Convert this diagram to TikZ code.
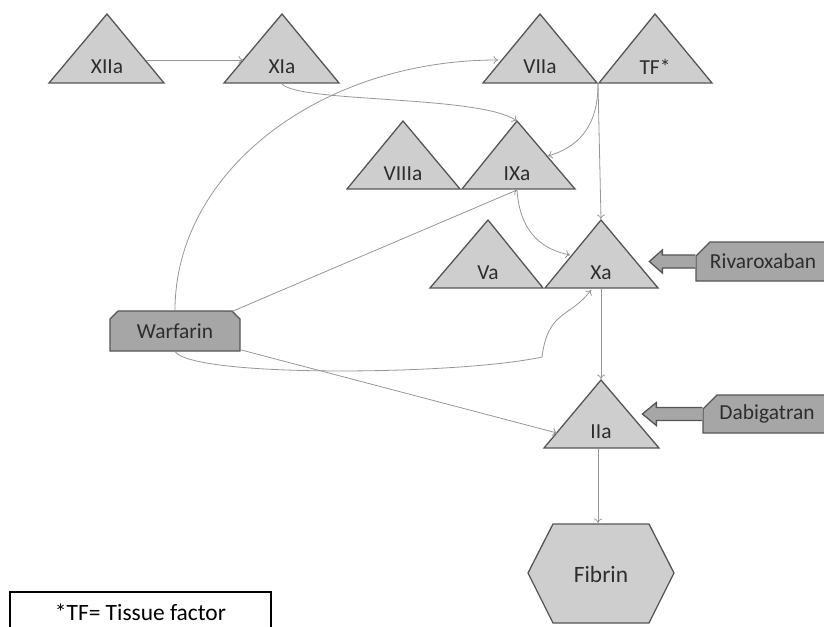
\documentclass[tikz,border=0pt]{standalone}
\usepackage{fontspec}
\setmainfont{Carlito}
\usetikzlibrary{shapes.misc,arrows.meta}
\definecolor{trifill}{RGB}{206,206,206}
\definecolor{drugfill}{RGB}{166,166,166}
\definecolor{edgegray}{RGB}{85,85,85}
\definecolor{linkgray}{RGB}{150,150,150}
\definecolor{textgray}{RGB}{45,45,45}

\begin{document}
\begin{tikzpicture}[x=1bp,y=-1bp,>={To[length=4.5bp,width=8bp]},
  tri/.style={fill=trifill,draw=edgegray,line width=1.3bp},
  lbl/.style={text=textgray,font=\fontsize{21.5}{25}\selectfont,inner sep=0pt},
  link/.style={draw=linkgray,line width=0.8bp,->},
  drug/.style={chamfered rectangle,fill=drugfill,draw=edgegray,line width=1.3bp,
    text=textgray,font=\fontsize{21.5}{25}\selectfont,inner sep=0pt,chamfered rectangle sep=4bp},
  blockarrow/.style={fill=drugfill,draw=edgegray,line width=1.3bp}]
\useasboundingbox (0,0) rectangle (824,627);
\clip (0,0) rectangle (824,627);

% factors
\filldraw[tri] (49,83) -- (107,14) -- (164,83) -- cycle;
\node[lbl] (xiia) at (107,67) {XIIa};
\filldraw[tri] (224,83) -- (282,14) -- (339,83) -- cycle;
\node[lbl] (xia) at (282,67) {XIa};
\filldraw[tri] (483,83) -- (540,14) -- (597,83) -- cycle;
\node[lbl] (viia) at (540,67) {VIIa};
\filldraw[tri] (599,83) -- (655,14) -- (712,83) -- cycle;
\node[lbl] (tf) at (655,67) {TF*};
\filldraw[tri] (347,189) -- (403,121) -- (460,189) -- cycle;
\node[lbl] (viiia) at (403,174) {VIIIa};
\filldraw[tri] (462,189) -- (517,121) -- (575,189) -- cycle;
\node[lbl] (ixa) at (517,174) {IXa};
\filldraw[tri] (430,288) -- (488,220) -- (543,288) -- cycle;
\node[lbl] (va) at (488,273) {Va};
\filldraw[tri] (545,288) -- (601,220) -- (658,288) -- cycle;
\node[lbl] (xa) at (601,273) {Xa};
\filldraw[tri] (544,448) -- (601,380) -- (659,448) -- cycle;
\node[lbl] (iia) at (601,432) {IIa};

% fibrin
\filldraw[tri] (553,524) -- (649,524) -- (674,573) -- (649,623) -- (553,623) -- (528,573) -- cycle;
\node[lbl,font=\fontsize{23.5}{28}\selectfont] (fibrin) at (601,574) {Fibrin};

% drugs
\node[drug,chamfered rectangle corners={north west,north east},minimum width=130bp,minimum height=40bp] (warfarin) at (175,331) {Warfarin};
\node[drug,chamfered rectangle corners=north west,minimum width=134bp,minimum height=39bp,chamfered rectangle sep=7bp] (riva) at (763,261.5) {Rivaroxaban};
\node[drug,chamfered rectangle corners=north west,minimum width=128bp,minimum height=38bp,chamfered rectangle sep=7bp] (dabi) at (767,414) {Dabigatran};
\filldraw[blockarrow] (riva.west) ++(0,-6.5) -- ++(-33,0) -- ++(0,-5) -- ++(-13,11.5) -- ++(13,11.5) -- ++(0,-5) -- ++(33,0);
\filldraw[blockarrow] (dabi.west) ++(0,-6.5) -- ++(-46,0) -- ++(0,-5) -- ++(-14,11.5) -- ++(14,11.5) -- ++(0,-5) -- ++(46,0);

% ends of the links
\coordinate (xiia-e) at (146,60);
\coordinate (xia-w) at (243,60);
\coordinate (xia-base) at (282,84);
\coordinate (ixa-top) at (517,121);
\coordinate (viia-w) at (498,60);
\coordinate (tf-join) at (598,84);
\coordinate (ixa-e) at (548,156);
\coordinate (xa-top) at (601,219);
\coordinate (ixa-base) at (517,190);
\coordinate (xa-w) at (570,255);
\coordinate (xa-base) at (591,290);
\coordinate (xa-bot) at (601,289);
\coordinate (iia-top) at (601,379);
\coordinate (iia-w) at (557,433);
\coordinate (iia-base) at (598,449);
\coordinate (fibrin-top) at (598,523);

% links
\draw[link] (xiia-e) -- (xia-w);
\draw[link] (xia-base) .. controls (300,103) and (480,95) .. (ixa-top);
\draw[link] (warfarin.north) .. controls (175,172) and (319,60) .. (viia-w);
\draw[link] (tf-join) .. controls (598,130) and (575,148) .. (ixa-e);
\draw[link] (tf-join) -- (xa-top);
\draw[link] (ixa-base) .. controls (520,235) and (545,250) .. (xa-w);
\draw[link] (warfarin.19) -- (ixa-base);
\draw[link] (warfarin.south) .. controls (195,378) and (460,375) .. (542,357)
  .. controls (548,310) and (570,318) .. (xa-base);
\draw[link] (warfarin.-16) -- (iia-w);
\draw[link] (xa-bot) -- (iia-top);
\draw[link] (iia-base) -- (fibrin-top);

% legend
\draw[line width=1.2bp] (10,640) -- (10,592) -- (271,592) -- (271,640);
\node[font=\fontsize{23.5}{28}\selectfont,inner sep=0pt] (legend) at (140.5,612) {*TF= Tissue factor};
\end{tikzpicture}
\end{document}
